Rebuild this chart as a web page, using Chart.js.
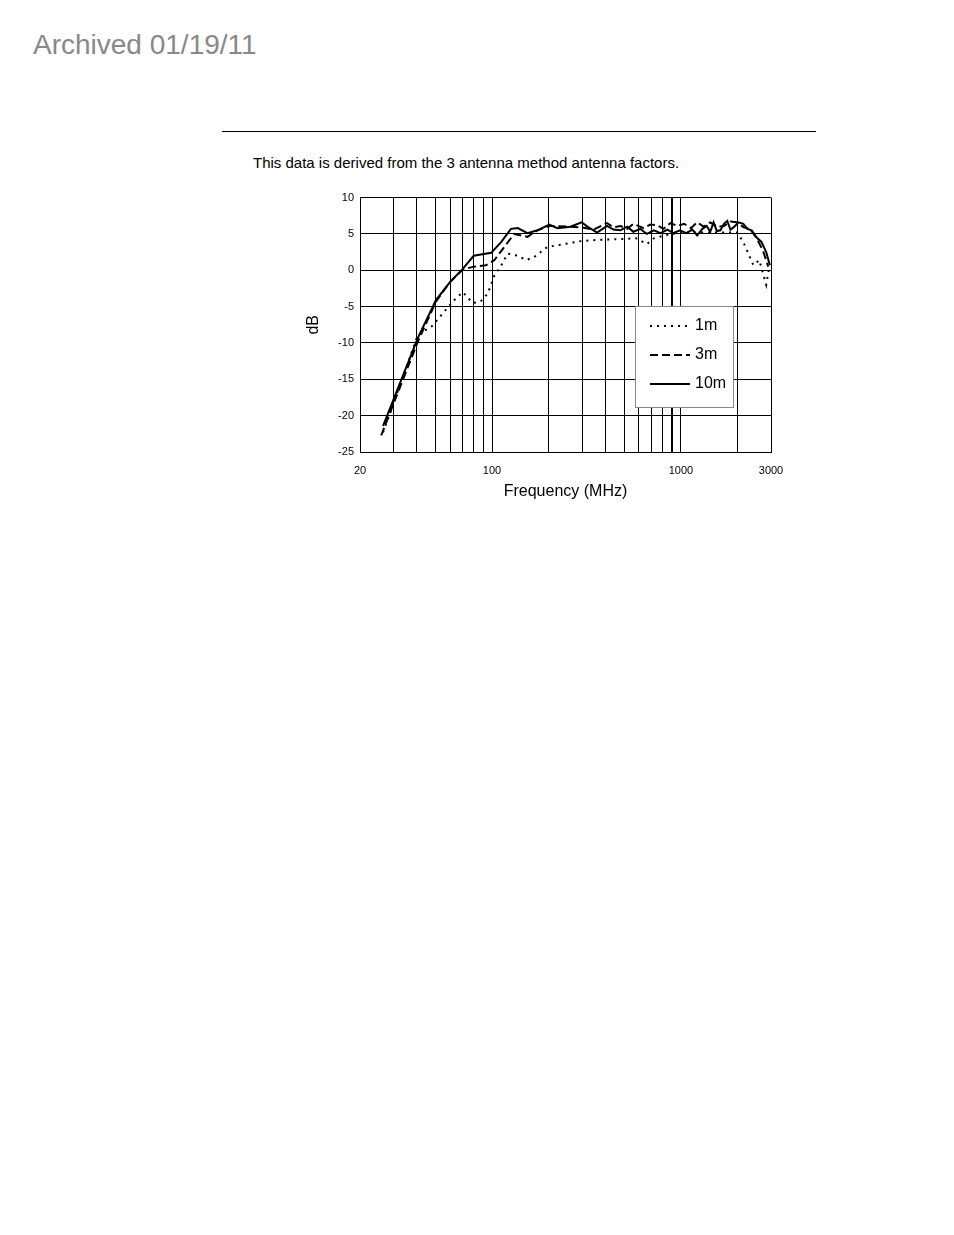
<!DOCTYPE html>
<html>
<head>
<meta charset="utf-8">
<script src="https://cdn.jsdelivr.net/npm/chart.js@4"></script>
<style>
body{margin:0;background:#fff;font-family:"Liberation Sans",Arial,sans-serif;}
#arch{position:absolute;left:33px;top:29px;font-size:28px;color:#888;}
#rule{position:absolute;left:222px;top:131px;width:594px;height:1px;background:#000;}
#desc{position:absolute;left:253px;top:154px;font-size:15px;color:#000;}
#wrap{position:absolute;left:300px;top:185px;width:500px;height:320px;}
</style>
</head>
<body>
<div id="arch">Archived 01/19/11</div>
<div id="rule"></div>
<div id="desc">This data is derived from the 3 antenna method antenna factors.</div>
<div id="wrap"><canvas id="chartCanvas" width="500" height="320"></canvas></div>
<script>
var freq10 = [26.5,40.5,50.5,60,70,80,99,112,126,137,154,174,201,222,260,298,320,360,406,440,478,520,560,610,660,720,780,850,910,990,1070,1150,1220,1300,1370,1430,1490,1550,1620,1690,1760,1830,1900,2020,2140,2250,2370,2520,2670,2830,2960];
var db10 =   [-21.4,-9.3,-4.1,-1.6,0.2,2.0,2.4,3.9,5.7,5.8,5.1,5.5,6.3,5.8,6.0,6.6,6.0,5.2,6.1,5.6,5.5,6.0,5.3,5.7,5.0,5.5,5.1,5.6,5.1,5.5,5.1,5.6,4.8,5.7,6.1,5.3,6.6,5.4,5.5,6.4,6.8,5.6,5.9,6.6,6.4,5.7,5.5,4.5,3.9,2.5,0.7];
var freq3 = [25.9,40.5,50.5,60,70,80,93,103,116,131,154,174,201,260,298,346,406,440,478,520,560,635,690,745,810,880,960,1040,1130,1220,1320,1430,1560,1690,1830,1980,2150,2320,2520,2720,2900];
var db3 =   [-22.7,-9.8,-4.3,-1.6,0.1,0.5,0.7,1.4,3.2,5.0,4.6,5.5,6.1,6.0,5.9,5.6,6.5,5.9,6.1,5.7,6.4,5.8,6.3,6.2,5.7,6.5,6.1,6.4,5.8,6.6,6.0,6.6,6.0,6.1,6.7,6.6,5.9,5.7,4.4,2.7,0.5];
var freq1 = [26.5,40.5,48,55,63,70,79,87,95,103,112,121,137,151,167,196,240,293,374,478,580,660,720,880,1070,1310,1620,1980,2140,2320,2420,2600,2830,2940];
var db1 =   [-22.3,-8.9,-7.7,-5.9,-4.1,-3.0,-4.5,-4.3,-3.2,-0.7,0.7,2.3,2.0,1.4,1.8,3.2,3.6,4.0,4.2,4.3,4.4,3.6,4.4,5.0,5.2,5.2,5.2,5.2,3.9,1.8,0.7,1.4,-2.0,0.5];
var gridFreqs = [20,30,40,50,60,70,80,90,100,200,300,400,500,600,700,800,900,1000,2000,3000];
var labelFreqs = [20,100,1000,3000];
var yTicks = [-25,-20,-15,-10,-5,0,5,10];
var seriesNames = ["1m","3m","10m"];

function pts(f, d){ return f.map(function(v,i){ return {x:v, y:d[i]}; }); }

var legendBox = {
  id:'legendBox',
  afterDraw:function(chart){
    var c = chart.ctx;
    var x0 = 335, y0 = 121, w = 98, h = 101;
    c.save();
    c.fillStyle = '#fff'; c.fillRect(x0,y0,w,h);
    c.strokeStyle = '#888'; c.lineWidth = 1; c.strokeRect(x0+0.5,y0+0.5,w,h);
    var dashes = [[2,5],[8,4],[]];
    c.font = '16px "Liberation Sans", Arial, sans-serif';
    c.textBaseline = 'middle';
    for (var i=0;i<3;i++){
      var yy = y0 + 20 + i*29;
      c.beginPath(); c.setLineDash(dashes[i]); c.strokeStyle='#000'; c.lineWidth=2;
      c.moveTo(x0+15,yy); c.lineTo(x0+55,yy); c.stroke();
      c.setLineDash([]); c.fillStyle='#000'; c.fillText(seriesNames[i], x0+60, yy);
    }
    c.restore();
  }
};

var ctx = document.getElementById("chartCanvas").getContext("2d");
new Chart(ctx, {
  type: 'line',
  data: {
    datasets: [
      {label:'1m', data:pts(freq1,db1), borderColor:'#000', borderWidth:2, borderDash:[2,5], pointRadius:0, tension:0},
      {label:'3m', data:pts(freq3,db3), borderColor:'#000', borderWidth:2, borderDash:[8,4], pointRadius:0, tension:0},
      {label:'10m', data:pts(freq10,db10), borderColor:'#000', borderWidth:2, pointRadius:0, tension:0}
    ]
  },
  options: {
    responsive:false, animation:false,
    layout:{padding:{top:12, right:29, left:0, bottom:0}},
    plugins:{legend:{display:false}, tooltip:{enabled:false}},
    scales:{
      x:{
        type:'logarithmic', min:20, max:3000,
        afterBuildTicks:function(s){ s.ticks = gridFreqs.map(function(v){return {value:v};}); },
        afterFit:function(s){ s.height = 53; },
        ticks:{autoSkip:false, maxRotation:0, padding:12, color:'#000', font:{size:11, family:'"Liberation Sans", Arial'},
          callback:function(v){ return labelFreqs.indexOf(v) >= 0 ? String(v) : ''; }},
        grid:{color:'#000', lineWidth:function(c){ return c.tick && c.tick.value===900 ? 2 : 1; }, drawTicks:false},
        border:{color:'#000'},
        title:{display:true, text:'Frequency (MHz)', color:'#000', font:{size:16, family:'"Liberation Sans", Arial'}, padding:{top:0}}
      },
      y:{
        min:-25, max:10,
        afterBuildTicks:function(s){ s.ticks = yTicks.map(function(v){return {value:v};}); },
        afterFit:function(s){ s.width = 60; },
        ticks:{color:'#000', font:{size:11, family:'"Liberation Sans", Arial'}, padding:6},
        grid:{color:'#000', lineWidth:1, drawTicks:false},
        border:{color:'#000'},
        title:{display:true, text:'dB', color:'#000', font:{size:16, family:'"Liberation Sans", Arial'}}
      }
    }
  },
  plugins:[legendBox]
});
</script>
</body>
</html>
